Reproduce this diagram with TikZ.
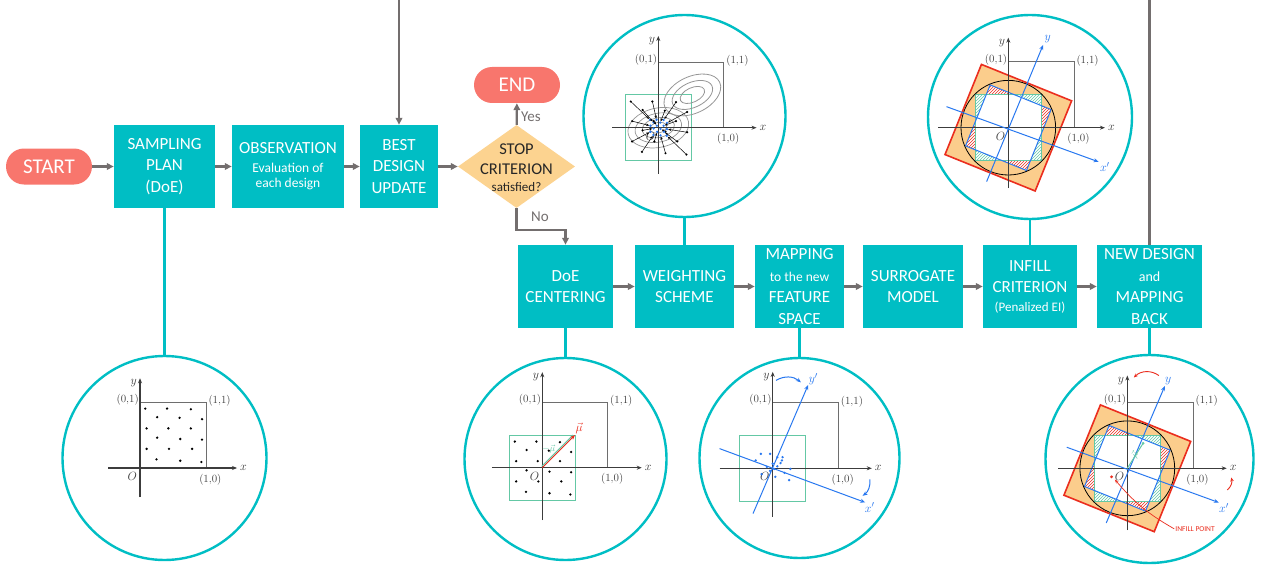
\documentclass[tikz,border=0pt]{standalone}
\usepackage{fontspec}
\newfontfamily\boxfont{Carlito}
\usetikzlibrary{shapes.geometric,arrows.meta,patterns}
\definecolor{tealc}{RGB}{0,190,196}
\definecolor{salmon}{RGB}{248,118,109}
\definecolor{diamc}{RGB}{252,211,144}
\definecolor{arrgray}{RGB}{115,110,110}
\definecolor{pblue}{RGB}{40,120,240}
\definecolor{pgreen}{RGB}{100,200,165}
\definecolor{porange}{RGB}{251,205,140}
\definecolor{pred}{RGB}{235,45,30}
\definecolor{axc}{RGB}{60,60,60}
\definecolor{sqc}{RGB}{110,110,110}
\definecolor{ellc}{RGB}{150,150,150}
\tikzset{
  flow/.style={rectangle, fill=tealc, text=white, inner sep=0pt, minimum height=83pt, align=center, font=\boxfont\fontsize{17}{21.5}\selectfont},
  term/.style={rectangle, rounded corners=18pt, fill=salmon, text=white, minimum width=86pt, minimum height=36pt, inner sep=0pt, font=\boxfont\fontsize{21}{24}\selectfont},
  decision/.style={diamond, fill=diamc, inner sep=0pt, minimum width=117pt, minimum height=83pt},
  flowarrow/.style={draw=arrgray, line width=2.2pt, -{Triangle[length=7pt,width=6.5pt]}},
  flowline/.style={draw=arrgray, line width=2.2pt},
  tealline/.style={draw=tealc, line width=2.4pt},
  bubble/.style={circle, draw=tealc, line width=2.4pt, fill=white, inner sep=0pt},
  gtxt/.style={text=arrgray, font=\boxfont\fontsize{15}{17}\selectfont, inner sep=0pt},
  axisln/.style={draw=axc, line width=1.1pt, -{Stealth[length=5pt,width=4pt]}},
  sqln/.style={draw=sqc, line width=1pt},
  plbl/.style={font=\fontsize{11}{12}\selectfont, text=axc, inner sep=1pt},
  alblb/.style={font=\fontsize{13}{14}\selectfont, text=axc, inner sep=1pt},
  bluelbl/.style={font=\fontsize{13}{14}\selectfont, text=pblue, inner sep=1pt},
  greensq/.style={draw=pgreen, line width=1pt},
  bluel/.style={draw=pblue, line width=1pt},
  bluearr/.style={draw=pblue, line width=1pt, -{Stealth[length=5pt,width=4pt]}},
  redarr/.style={draw=pred, line width=0.9pt, -{Stealth[length=4pt,width=3.5pt]}},
}
\newcommand\doelist{0.08/0.9, 0.41/0.9, 0.77/0.89, 0.26/0.77, 0.6/0.76, 0.94/0.74, 0.1/0.6, 0.43/0.6, 0.77/0.6, 0.26/0.46, 0.61/0.44, 0.94/0.43, 0.1/0.29, 0.44/0.29, 0.79/0.29, 0.25/0.13, 0.61/0.11, 0.93/0.09}
\newcommand\plotbase[4]{%
  \draw[sqln] (0,1) -- (1,1) -- (1,0);
  \draw[axisln] (#1,0) -- (#2,0);
  \draw[axisln] (0,#3) -- (0,#4);
  \node[alblb, anchor=west] at ({#2+0.03},0) {$x$};
  \node[alblb, anchor=east] at ({-0.03},{#4-0.08}) {$y$};
  \node[plbl, anchor=east] at (0,1.04) {(0,1)};
  \node[plbl, anchor=west] at (1.02,1.02) {(1,1)};
  \node[plbl, anchor=north west] at (0.88,-0.07) {(1,0)};
  \node[alblb, anchor=north east] at (-0.03,-0.05) {$O$};
}
\newcommand\infillbase{%
  \fill[porange, rotate=-22] (-0.74,-0.74) rectangle (0.74,0.74);
  \fill[white] (-0.5,-0.5) rectangle (0.5,0.5);
  \fill[white, rotate=-22] (-0.5,-0.5) rectangle (0.5,0.5);
  \begin{scope}
    \clip[rotate=-22] (-0.5,-0.5) rectangle (0.5,0.5);
    \fill[even odd rule, pattern=north east lines, pattern color=pred] (-2,-2) rectangle (2,2) (-0.5,-0.5) rectangle (0.5,0.5);
  \end{scope}
  \begin{scope}
    \clip (-0.5,-0.5) rectangle (0.5,0.5);
    \fill[rotate=-22, even odd rule, pattern=north east lines, pattern color=pgreen] (-2,-2) rectangle (2,2) (-0.5,-0.5) rectangle (0.5,0.5);
  \end{scope}
  \draw[greensq] (-0.5,-0.5) rectangle (0.5,0.5);
  \draw[bluel, rotate=-22] (-0.5,-0.5) rectangle (0.5,0.5);
  \draw[black, line width=0.8pt] (0,0) circle (0.72);
  \draw[pred, line width=1.6pt, rotate=-22] (-0.74,-0.74) rectangle (0.74,0.74);
}
\begin{document}
\begin{tikzpicture}[x=1pt,y=-1pt]
\useasboundingbox (0,0) rectangle (1263,567);
% ---------- top row ----------
\node[term] (start) at (49,166.5) {START};
\node[flow, minimum width=101pt] (samp) at (164.5,166.5) {SAMPLING\\PLAN\\(DoE)};
\node[flow, minimum width=112pt] (obs) at (288,166.5) {OBSERVATION\\[-3pt]{\fontsize{13.5}{15}\selectfont Evaluation of}\\[-6pt]{\fontsize{13.5}{15}\selectfont each design}};
\node[flow, minimum width=78pt] (best) at (399,166.5) {BEST\\DESIGN\\UPDATE};
\node[decision] (stop) at (516.5,166.5) {};
\node[font=\boxfont\fontsize{16.5}{20.5}\selectfont, align=center, text=black!85, inner sep=0pt] (stoptxt) at (516.5,167.5) {STOP\\CRITERION\\[-4pt]{\fontsize{13}{15}\selectfont satisfied?}};
\node[term] (end) at (517,85) {END};
% ---------- bottom row ----------
\node[flow, minimum width=95pt] (cent) at (565.5,286.5) {DoE\\CENTERING};
\node[flow, minimum width=99pt] (weight) at (684.5,286.5) {WEIGHTING\\SCHEME};
\node[flow, minimum width=89pt] (map) at (799.5,286.5) {MAPPING\\{\fontsize{13.5}{15}\selectfont to the new}\\FEATURE\\SPACE};
\node[flow, minimum width=100pt] (surr) at (913,286.5) {SURROGATE\\MODEL};
\node[flow, minimum width=94pt] (infill) at (1030,286.5) {INFILL\\CRITERION\\[-3pt]{\fontsize{13}{15}\selectfont (Penalized EI)}};
\node[flow, minimum width=105pt] (newd) at (1149.5,286.5) {NEW DESIGN\\{\fontsize{14}{16}\selectfont and}\\MAPPING\\BACK};
% ---------- flow connectors ----------
\draw[flowarrow] (start) -- (samp);
\draw[flowarrow] (samp) -- (obs);
\draw[flowarrow] (obs) -- (best);
\draw[flowarrow] (best) -- (stop);
\draw[flowarrow] (stop) -- (end);
\node[gtxt] (yes) at (531,117) {Yes};
\draw[flowarrow] (stop.south) -- ++(0,22) -| (cent.north);
\node[gtxt] (no) at (540,217) {No};
\draw[flowarrow] (cent) -- (weight);
\draw[flowarrow] (weight) -- (map);
\draw[flowarrow] (map) -- (surr);
\draw[flowarrow] (surr) -- (infill);
\draw[flowarrow] (infill) -- (newd);
\coordinate (loopin) at (399,0);
\coordinate (loopout) at (1149.5,0);
\draw[flowarrow] (loopin) -- (best.north);
\draw[flowline] (newd.north) -- (loopout);
% ---------- bubbles ----------
\node[bubble, minimum size=204pt] (b1) at (164.5,458) {};
\node[bubble, minimum size=202pt] (b2) at (565.5,459) {};
\node[bubble, minimum size=200pt] (b3) at (799.5,458) {};
\node[bubble, minimum size=208pt] (b4) at (1149.5,459) {};
\node[bubble, minimum size=202pt] (bt1) at (684.5,116) {};
\node[bubble, minimum size=204pt] (bt2) at (1030,117) {};
\draw[tealline] (samp.south) -- (b1.north);
\draw[tealline] (cent.south) -- (b2.north);
\draw[tealline] (map.south) -- (b3.north);
\draw[tealline] (newd.south) -- (b4.north);
\draw[tealline] (weight.north) -- (bt1.south);
\draw[tealline] (infill.north) -- (bt2.south);
% ---------- plot 1: sampling plan ----------
\begin{scope}[shift={(140,468)}, x=66pt, y=66pt]
  \plotbase{-0.48}{1.47}{-0.44}{1.36}
  \foreach \pu/\pv in \doelist \fill (\pu,\pv) circle (1.3pt);
\end{scope}
% ---------- plot 2: DoE centering ----------
\begin{scope}[shift={(542.3,467.7)}, x=65.4pt, y=65.4pt]
  \draw[greensq] (-0.5,-0.5) rectangle (0.5,0.5);
  \plotbase{-0.77}{1.52}{-0.8}{1.46}
  \foreach \pu/\pv in \doelist \fill ({\pu-0.5},{\pv-0.5}) circle (1.3pt);
  \draw[pgreen, line width=1pt] (0.47,0.5) -- (-0.01,0.02);
  \draw[pred, line width=1pt, -{Stealth[length=5pt,width=4pt]}] (0,0) -- (0.5,0.5);
  \node[font=\fontsize{12}{12}\selectfont, text=pred, anchor=south west, inner sep=0.5pt] at (0.5,0.5) {$\vec{\mu}$};
  \node[font=\fontsize{9}{10}\selectfont, text=pgreen, inner sep=0pt] at (0.1,0.29) {$-\vec{\mu}$};
\end{scope}
% ---------- plot 3: mapping ----------
\begin{scope}[shift={(772.7,468.3)}, x=65.6pt, y=65.6pt]
  \draw[greensq] (-0.5,-0.5) rectangle (0.5,0.5);
  \plotbase{-0.81}{1.51}{-0.74}{1.47}
  \draw[bluearr] (-0.81,0.3) -- (1.41,-0.52);
  \draw[bluearr] (-0.3,-0.69) -- (0.54,1.27);
  \node[bluelbl] at (0.62,1.36) {$y'$};
  \node[bluelbl] at (1.48,-0.6) {$x'$};
  \draw[bluearr] (0.05,1.34) to[bend left=35] (0.43,1.31);
  \draw[bluearr] (1.48,-0.17) to[bend left=30] (1.37,-0.42);
  \foreach \pu/\pv in {-0.18/0.22, -0.04/0.22, -0.26/0.12, 0.07/0.17, 0.15/0.17, 0.14/0.12, 0.12/0.08, 0/0.07, -0.09/0.02, 0.07/0.03, 0.27/-0.01, -0.17/-0.09, 0.18/-0.07, 0.04/-0.13, 0.25/-0.18, -0.04/-0.04, 0.02/-0.01}
    \fill[pblue] (\pu,\pv) circle (1.3pt);
\end{scope}
% ---------- plot T1: weighting ----------
\begin{scope}[shift={(658.3,127.7)}, x=65.5pt, y=65.5pt]
  \draw[greensq] (-0.5,-0.5) rectangle (0.5,0.5);
  \foreach \ea/\eb in {0.47/0.3, 0.36/0.22, 0.25/0.15, 0.13/0.08}
    \draw[ellc, line width=0.7pt, rotate=12] (0,0) ellipse ({\ea} and {\eb});
  \foreach \ea/\eb in {0.46/0.28, 0.33/0.19, 0.2/0.11}
    \draw[ellc, line width=0.8pt, shift={(0.52,0.5)}, rotate=25] (0,0) ellipse ({\ea} and {\eb});
  \plotbase{-0.7}{1.5}{-0.7}{1.4}
  \foreach \pu/\pv in \doelist {
    \draw[line width=0.5pt, -{Stealth[length=3pt,width=2.5pt]}, shorten >=1.3pt] ({\pu-0.5},{\pv-0.5}) -- ({0.3*(\pu-0.5)},{0.3*(\pv-0.5)});
    \fill ({\pu-0.5},{\pv-0.5}) circle (1.2pt);
    \fill[pblue] ({0.3*(\pu-0.5)},{0.3*(\pv-0.5)}) circle (1.3pt);
  }
\end{scope}
% ---------- plot T2: infill ----------
\begin{scope}[shift={(1008.3,127.7)}, x=65.7pt, y=65.7pt]
  \infillbase
  \plotbase{-1.07}{1.47}{-0.92}{1.37}
  \draw[bluearr] (-0.94,0.32) -- (1.375,-0.52);
  \draw[bluearr] (-0.33,-0.82) -- (0.53,1.26);
  \node[bluelbl] at (0.6,1.35) {$y$};
  \node[bluelbl] at (1.47,-0.6) {$x'$};
\end{scope}
% ---------- plot 4: new design ----------
\begin{scope}[shift={(1127.3,468.3)}, x=65.8pt, y=65.8pt]
  \infillbase
  \plotbase{-1.05}{1.51}{-0.94}{1.41}
  \draw[bluearr] (-0.92,0.32) -- (1.39,-0.52);
  \draw[bluearr] (-0.32,-0.83) -- (0.57,1.25);
  \node[bluelbl] at (0.62,1.33) {$y$};
  \node[bluelbl] at (1.47,-0.6) {$x'$};
  \draw[redarr] (0.48,1.41) to[bend right=40] (0.1,1.38);
  \draw[redarr] (1.52,-0.33) to[bend right=30] (1.58,-0.14);
  \draw[pgreen, line width=1pt] (0,0) -- (0.24,0.38);
  \fill[pgreen] (0.24,0.38) circle (1.5pt);
  \node[font=\fontsize{9}{10}\selectfont, text=pgreen, rotate=58, inner sep=0pt] at (0.12,0.2) {$\vec{\mu}$};
  \fill[pred] (-0.24,-0.13) circle (1.6pt);
  \node[font=\boxfont\fontsize{7.5}{8}\selectfont, text=pred, inner sep=1pt] (infpt) at (1.03,-0.92) {INFILL POINT};
  \draw[draw=pred, line width=0.7pt, -{Stealth[length=4pt,width=3pt]}] (infpt.west) to[bend left=10] (-0.19,-0.17);
\end{scope}
\end{tikzpicture}
\end{document}
